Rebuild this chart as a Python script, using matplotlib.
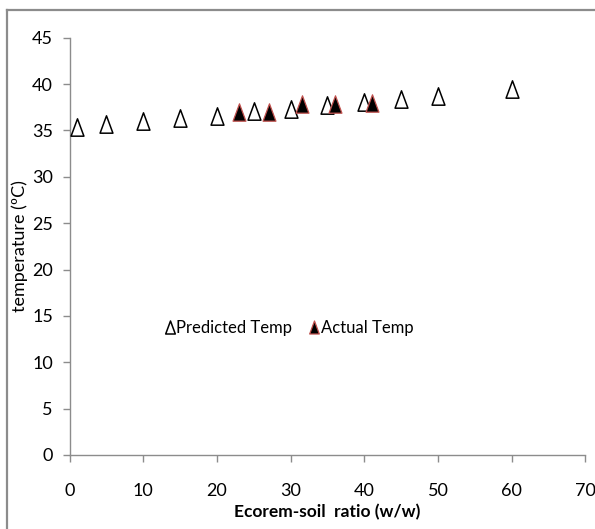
import numpy as np
import matplotlib
matplotlib.use('Agg')
import matplotlib.pyplot as plt
from matplotlib.path import Path
from matplotlib.lines import Line2D

plt.rcParams['font.family'] = ['Lato', 'DejaVu Sans']

# data
pred_x = [1, 5, 10, 15, 20, 25, 30, 35, 40, 45, 50, 60]
pred_temp = [35.4, 35.7, 36.0, 36.3, 36.6, 37.05, 37.3, 37.7, 38.05, 38.4, 38.7, 39.45]
act_x = [23, 27, 31.5, 36, 41]
act_temp = [37.0, 37.0, 37.9, 37.9, 38.0]

# narrow triangle like the excel marker
tri = Path([(-0.37, -0.5), (0.37, -0.5), (0, 0.5), (-0.37, -0.5)],
           [Path.MOVETO, Path.LINETO, Path.LINETO, Path.CLOSEPOLY])

fig = plt.figure(figsize=(5.95, 5.29), dpi=100)
ax = fig.add_axes([0.117, 0.1399, 0.8667, 0.7888])

ax.plot(pred_x, pred_temp, linestyle='none', marker=tri, markersize=12.5,
        markerfacecolor='white', markeredgecolor='black', markeredgewidth=1.1,
        label='Predicted Temp', zorder=3)
ax.plot(act_x, act_temp, linestyle='none', marker=tri, markersize=12.5,
        markerfacecolor='black', markeredgecolor='#c0504d', markeredgewidth=0.9,
        label='Actual Temp', zorder=4)

ax.set_xlim(0, 70)
ax.set_ylim(0, 45)
ax.set_xticks(range(0, 71, 10))
ax.set_yticks(range(0, 46, 5))

for s in ['top', 'right']:
    ax.spines[s].set_visible(False)
for s in ['left', 'bottom']:
    ax.spines[s].set_color('#8c8c8c')
    ax.spines[s].set_linewidth(1.0)

ax.tick_params(axis='y', length=5, width=1, color='#8c8c8c', pad=7, labelsize=13)
ax.tick_params(axis='x', length=5, width=1, color='#8c8c8c', pad=15, labelsize=13)

ax.set_ylabel('temperature (ºC)', fontsize=13)
ax.yaxis.set_label_coords(-0.08, 0.5)
ax.set_xlabel('Ecorem-soil  ratio (w/w)', fontsize=12.5, fontweight='bold')
ax.xaxis.set_label_coords(0.5, -0.118)

ax.legend(loc='center left', bbox_to_anchor=(0.155, 0.305), ncol=2, frameon=False,
          fontsize=12, handlelength=0.6, handletextpad=0.1, columnspacing=1.0,
          markerscale=0.75)

# outer chart frame (only top and left edges show in the reference)
fig.add_artist(Line2D([7 / 595, 7 / 595], [0, 1 - 10 / 529], transform=fig.transFigure,
                      color='#8c8c8c', linewidth=1.6))
fig.add_artist(Line2D([7 / 595, 1], [1 - 10 / 529, 1 - 10 / 529], transform=fig.transFigure,
                      color='#8c8c8c', linewidth=1.6))

fig.savefig('out.png', dpi=100)
